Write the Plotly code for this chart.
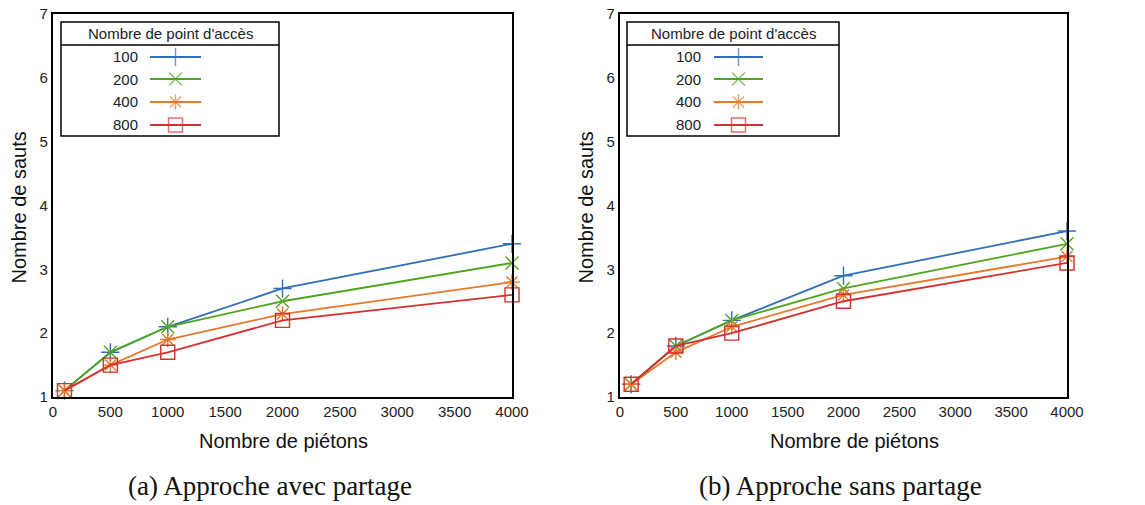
import plotly.graph_objects as go

# Données
pietons = [100, 500, 1000, 2000, 4000]
points_acces = ["100", "200", "400", "800"]

# (a) Approche avec partage
avec_100 = [1.1, 1.7, 2.1, 2.7, 3.4]
avec_200 = [1.1, 1.7, 2.1, 2.5, 3.1]
avec_400 = [1.1, 1.5, 1.9, 2.3, 2.8]
avec_800 = [1.1, 1.5, 1.7, 2.2, 2.6]

# (b) Approche sans partage
sans_100 = [1.2, 1.8, 2.2, 2.9, 3.6]
sans_200 = [1.2, 1.8, 2.2, 2.7, 3.4]
sans_400 = [1.2, 1.7, 2.1, 2.6, 3.2]
sans_800 = [1.2, 1.8, 2.0, 2.5, 3.1]

couleurs = ["#2f6fb6", "#4fa61e", "#e8772b", "#d3302f"]
symboles = ["cross-thin-open", "x-thin-open", "asterisk-open", "square-open"]
tailles = [13, 13, 13, 14]

W, H = 1145, 505
OFF = 8  # marge par défaut du <body> de la page
FONT = "Liberation Sans, Arial, sans-serif"

def px_x(v):
    return (v - OFF) / W

def px_y(v):
    return 1 - (v - OFF) / H

fig = go.Figure()

panneaux = [
    dict(xa="x", ya="y", series=[avec_100, avec_200, avec_400, avec_800],
         plot=(53, 512), leg=(61, 279), lab=140, ligne=(150, 201),
         ytitle=18, xtitle=283, caption_x=270, caption="(a) Approche avec partage"),
    dict(xa="x2", ya="y2", series=[sans_100, sans_200, sans_400, sans_800],
         plot=(620, 1067), leg=(627, 839), lab=703, ligne=(714, 763),
         ytitle=585, xtitle=854, caption_x=840, caption="(b) Approche sans partage"),
]

top, bottom = 14, 397
leg_top, leg_sep, leg_bot = 22, 45, 136
entree_y = [57, 79, 102, 125]

shapes = []
annotations = []
axes = {}

for p_i, p in enumerate(panneaux):
    for i, serie in enumerate(p["series"]):
        fig.add_trace(go.Scatter(
            x=pietons, y=serie, xaxis=p["xa"], yaxis=p["ya"],
            mode="lines+markers", cliponaxis=False, showlegend=False,
            line=dict(color=couleurs[i], width=1.8),
            marker=dict(symbol=symboles[i], size=tailles[i], color=couleurs[i],
                        line=dict(color=couleurs[i], width=1.4)),
        ))

    sfx = "" if p_i == 0 else "2"
    x0, x1 = p["plot"]
    axes["xaxis" + sfx] = dict(
        domain=[px_x(x0), px_x(x1)], range=[0, 4000], dtick=500,
        showgrid=False, zeroline=False, ticks="", showline=True, mirror=True,
        linecolor="black", linewidth=2.2, anchor="y" + sfx,
        tickfont=dict(family=FONT, size=15, color="#222"), automargin=False,
        ticklabeloverflow="allow",
    )
    axes["yaxis" + sfx] = dict(
        domain=[px_y(bottom), px_y(top)], range=[1, 7], dtick=1,
        showgrid=False, zeroline=False, ticks="", showline=True, mirror=True,
        linecolor="black", linewidth=2.2, anchor="x" + sfx,
        tickfont=dict(family=FONT, size=15, color="#222"), automargin=False,
        ticklabeloverflow="allow",
    )

    # Légende dessinée à la main (texte à gauche du symbole, comme gnuplot)
    lx0, lx1 = p["leg"]
    shapes.append(dict(type="rect", xref="paper", yref="paper",
                       x0=px_x(lx0), x1=px_x(lx1), y0=px_y(leg_bot), y1=px_y(leg_top),
                       line=dict(color="black", width=1.5), fillcolor="white", layer="below"))
    shapes.append(dict(type="line", xref="paper", yref="paper",
                       x0=px_x(lx0), x1=px_x(lx1), y0=px_y(leg_sep), y1=px_y(leg_sep),
                       line=dict(color="black", width=1.5)))
    annotations.append(dict(text="Nombre de point d'accès", xref="paper", yref="paper",
                            x=px_x((lx0 + lx1) / 2), y=px_y((leg_top + leg_sep) / 2),
                            showarrow=False, xanchor="center", yanchor="middle",
                            font=dict(family=FONT, size=15, color="#222")))

    lax = "x" + str(3 + p_i)
    lay = "y" + str(3 + p_i)
    axes["xaxis" + str(3 + p_i)] = dict(domain=[0, 1], range=[OFF, W + OFF], visible=False,
                                        anchor=lay, fixedrange=True)
    axes["yaxis" + str(3 + p_i)] = dict(domain=[0, 1], range=[H + OFF, OFF], visible=False,
                                        anchor=lax, fixedrange=True)
    a, b = p["ligne"]
    for i, nom in enumerate(points_acces):
        yy = entree_y[i]
        annotations.append(dict(text=nom, xref="paper", yref="paper",
                                x=px_x(p["lab"]), y=px_y(yy), showarrow=False,
                                xanchor="right", yanchor="middle",
                                font=dict(family=FONT, size=15, color="#222")))
        fig.add_trace(go.Scatter(
            x=[a, (a + b) / 2, b], y=[yy, yy, yy], xaxis=lax, yaxis=lay,
            mode="lines+markers", showlegend=False, hoverinfo="skip",
            line=dict(color=couleurs[i], width=1.8),
            marker=dict(symbol=symboles[i], size=[0, tailles[i], 0], color=couleurs[i],
                        line=dict(color=couleurs[i], width=1.4)),
        ))

    annotations.append(dict(text="Nombre de sauts", xref="paper", yref="paper",
                            x=px_x(p["ytitle"]), y=px_y((top + bottom) / 2 + 2),
                            textangle=-90, showarrow=False,
                            xanchor="center", yanchor="middle",
                            font=dict(family=FONT, size=20, color="#111")))
    annotations.append(dict(text="Nombre de piétons", xref="paper", yref="paper",
                            x=px_x(p["xtitle"]), y=px_y(441),
                            showarrow=False, xanchor="center", yanchor="middle",
                            font=dict(family=FONT, size=20, color="#111")))
    annotations.append(dict(text=p["caption"], xref="paper", yref="paper",
                            x=px_x(p["caption_x"]), y=px_y(486),
                            showarrow=False, xanchor="center", yanchor="middle",
                            font=dict(family="Liberation Serif, Times New Roman, serif",
                                      size=27, color="#111")))

fig.update_layout(
    width=W, height=H,
    margin=dict(l=0, r=0, t=0, b=0),
    paper_bgcolor="white", plot_bgcolor="rgba(0,0,0,0)",
    showlegend=False,
    shapes=shapes, annotations=annotations,
    **axes,
)

fig.write_html("out.html")
